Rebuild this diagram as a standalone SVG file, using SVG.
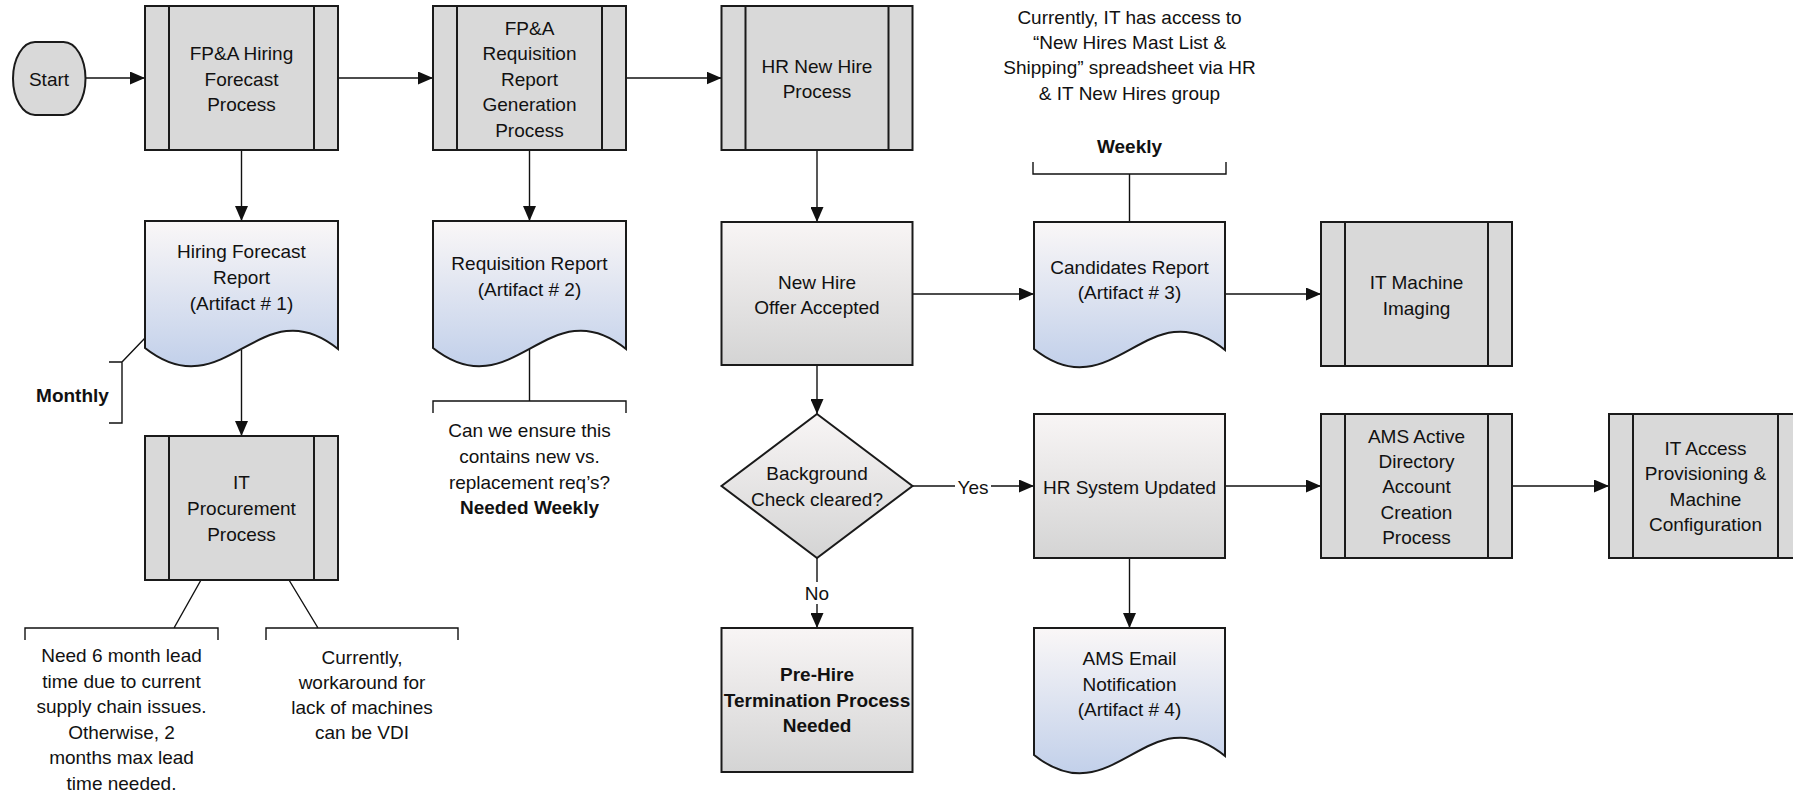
<svg xmlns="http://www.w3.org/2000/svg" width="1793" height="794" viewBox="0 0 1793 794">
<style>
.t{font-family:"Liberation Sans",Arial,sans-serif;font-size:19px;fill:#111;text-anchor:middle}
.b{font-weight:bold}
.proc{fill:#d9d9d9;stroke:#1a1a1a;stroke-width:2}
.in{stroke:#1a1a1a;stroke-width:2;fill:none}
.doc{fill:url(#gDoc);stroke:#1a1a1a;stroke-width:2}
.box{fill:url(#gBox);stroke:#1a1a1a;stroke-width:2}
.c{fill:none;stroke:#111;stroke-width:1.4}
.a{marker-end:url(#ar)}
</style>
<defs>
<linearGradient id="gDoc" x1="0" y1="0" x2="0" y2="1">
<stop offset="0" stop-color="#faf7f7"/><stop offset="1" stop-color="#c2d0ea"/>
</linearGradient>
<linearGradient id="gBox" x1="0" y1="0" x2="0" y2="1">
<stop offset="0" stop-color="#f8f5f5"/><stop offset="1" stop-color="#d4d4d4"/>
</linearGradient>
<marker id="ar" markerUnits="userSpaceOnUse" markerWidth="15" markerHeight="13" viewBox="0 0 15 13" refX="15" refY="6.5" orient="auto">
<path d="M0,0 L15,6.5 L0,13 z" fill="#111"/>
</marker>
</defs>

<g id="connectors">
<path class="c a" d="M86,78 H145"/>
<path class="c a" d="M338,78 H433"/>
<path class="c a" d="M626,78 H721.5"/>
<path class="c a" d="M241.5,150 V221"/>
<path class="c a" d="M529.5,150 V221"/>
<path class="c a" d="M817,150 V222"/>
<path class="c a" d="M912.5,294 H1034"/>
<path class="c a" d="M1225,294 H1321"/>
<path class="c a" d="M241.5,350 V436"/>
<path class="c a" d="M817,365 V414"/>
<path class="c a" d="M912.5,486 H1034"/>
<path class="c a" d="M1225,486 H1321"/>
<path class="c a" d="M1512,486 H1609"/>
<path class="c a" d="M817,558 V628"/>
<path class="c a" d="M1129.5,558 V628"/>
<rect x="955" y="476" width="36" height="22" fill="#fff"/>
<text class="t" x="973" y="494">Yes</text>
<rect x="803" y="582" width="28" height="22" fill="#fff"/>
<text class="t" x="817" y="600">No</text>
<!-- annotation brackets -->
<path class="c" d="M145,338 L122,362 M109,362 H122 V423 H109"/>
<path class="c" d="M529.5,349 V401 M433,413 V401 H626 V413"/>
<path class="c" d="M1129.5,222 V174 M1033,162 V174 H1226 V162"/>
<path class="c" d="M201,580 L174,628 M289,580 L318,628 M25,640 V628 H218 V640 M266,640 V628 H458 V640"/>
</g>

<g id="start">
<rect x="13" y="42" width="72.5" height="73" rx="22" ry="36.5" class="proc"/>
<text class="t" x="49" y="86">Start</text>
</g>

<g id="fpa-hiring">
<rect x="145" y="6" width="193" height="144" class="proc"/>
<path class="in" d="M169,6 V150 M314,6 V150"/>
<text class="t" x="241.5" y="60">FP&amp;A Hiring</text>
<text class="t" x="241.5" y="86">Forecast</text>
<text class="t" x="241.5" y="111">Process</text>
</g>

<g id="fpa-req">
<rect x="433" y="6" width="193" height="144" class="proc"/>
<path class="in" d="M457,6 V150 M602,6 V150"/>
<text class="t" x="529.5" y="35">FP&amp;A</text>
<text class="t" x="529.5" y="60">Requisition</text>
<text class="t" x="529.5" y="86">Report</text>
<text class="t" x="529.5" y="111">Generation</text>
<text class="t" x="529.5" y="137">Process</text>
</g>

<g id="hr-new-hire">
<rect x="721.5" y="6" width="191" height="144" class="proc"/>
<path class="in" d="M745.5,6 V150 M888.5,6 V150"/>
<text class="t" x="817" y="73">HR New Hire</text>
<text class="t" x="817" y="98">Process</text>
</g>

<g id="note-weekly">
<text class="t" x="1129.5" y="24">Currently, IT has access to</text>
<text class="t" x="1129.5" y="49">“New Hires Mast List &amp;</text>
<text class="t" x="1129.5" y="74">Shipping” spreadsheet via HR</text>
<text class="t" x="1129.5" y="100">&amp; IT New Hires group</text>
<text class="t b" x="1129.5" y="153">Weekly</text>
</g>

<g id="hiring-forecast-report">
<path class="doc" d="M145,221 H338 V349 C260,286 225,411 145,348 Z"/>
<text class="t" x="241.5" y="258">Hiring Forecast</text>
<text class="t" x="241.5" y="284">Report</text>
<text class="t" x="241.5" y="310">(Artifact # 1)</text>
</g>

<g id="requisition-report">
<path class="doc" d="M433,221 H626 V349 C548,286 513,411 433,348 Z"/>
<text class="t" x="529.5" y="270">Requisition Report</text>
<text class="t" x="529.5" y="296">(Artifact # 2)</text>
</g>

<g id="offer-accepted">
<rect x="721.5" y="222" width="191" height="143" class="box"/>
<text class="t" x="817" y="289">New Hire</text>
<text class="t" x="817" y="314">Offer Accepted</text>
</g>

<g id="candidates-report">
<path class="doc" d="M1034,222 H1225 V350 C1148,287 1113,412 1034,349 Z"/>
<text class="t" x="1129.5" y="274">Candidates Report</text>
<text class="t" x="1129.5" y="299">(Artifact # 3)</text>
</g>

<g id="it-machine-imaging">
<rect x="1321" y="222" width="191" height="144" class="proc"/>
<path class="in" d="M1345,222 V366 M1488,222 V366"/>
<text class="t" x="1416.5" y="289">IT Machine</text>
<text class="t" x="1416.5" y="315">Imaging</text>
</g>

<g id="monthly">
<text class="t b" x="72.5" y="402">Monthly</text>
</g>

<g id="it-procurement">
<rect x="145" y="436" width="193" height="144" class="proc"/>
<path class="in" d="M169,436 V580 M314,436 V580"/>
<text class="t" x="241.5" y="489">IT</text>
<text class="t" x="241.5" y="515">Procurement</text>
<text class="t" x="241.5" y="541">Process</text>
</g>

<g id="note-req">
<text class="t" x="529.5" y="437">Can we ensure this</text>
<text class="t" x="529.5" y="463">contains new vs.</text>
<text class="t" x="529.5" y="489">replacement req’s?</text>
<text class="t b" x="529.5" y="514">Needed Weekly</text>
</g>

<g id="background-check">
<polygon class="box" points="817,414 912.5,486 817,558 721.5,486"/>
<text class="t" x="817" y="480">Background</text>
<text class="t" x="817" y="506">Check cleared?</text>
</g>

<g id="hr-system-updated">
<rect x="1034" y="414" width="191" height="144" class="box"/>
<text class="t" x="1129.5" y="494">HR System Updated</text>
</g>

<g id="ams-ad">
<rect x="1321" y="414" width="191" height="144" class="proc"/>
<path class="in" d="M1345,414 V558 M1488,414 V558"/>
<text class="t" x="1416.5" y="443">AMS Active</text>
<text class="t" x="1416.5" y="468">Directory</text>
<text class="t" x="1416.5" y="493">Account</text>
<text class="t" x="1416.5" y="519">Creation</text>
<text class="t" x="1416.5" y="544">Process</text>
</g>

<g id="it-access">
<rect x="1609" y="414" width="193" height="144" class="proc"/>
<path class="in" d="M1633,414 V558 M1778,414 V558"/>
<text class="t" x="1705.5" y="455">IT Access</text>
<text class="t" x="1705.5" y="480">Provisioning &amp;</text>
<text class="t" x="1705.5" y="506">Machine</text>
<text class="t" x="1705.5" y="531">Configuration</text>
</g>

<g id="note-procurement-left">
<text class="t" x="121.5" y="662">Need 6 month lead</text>
<text class="t" x="121.5" y="688">time due to current</text>
<text class="t" x="121.5" y="713">supply chain issues.</text>
<text class="t" x="121.5" y="739">Otherwise, 2</text>
<text class="t" x="121.5" y="764">months max lead</text>
<text class="t" x="121.5" y="790">time needed.</text>
</g>

<g id="note-procurement-right">
<text class="t" x="362" y="664">Currently,</text>
<text class="t" x="362" y="689">workaround for</text>
<text class="t" x="362" y="714">lack of machines</text>
<text class="t" x="362" y="739">can be VDI</text>
</g>

<g id="pre-hire">
<rect x="721.5" y="628" width="191" height="144" class="box"/>
<text class="t b" x="817" y="681">Pre-Hire</text>
<text class="t b" x="817" y="707">Termination Process</text>
<text class="t b" x="817" y="732">Needed</text>
</g>

<g id="ams-email">
<path class="doc" d="M1034,628 H1225 V756 C1148,693 1113,818 1034,755 Z"/>
<text class="t" x="1129.5" y="665">AMS Email</text>
<text class="t" x="1129.5" y="691">Notification</text>
<text class="t" x="1129.5" y="716">(Artifact # 4)</text>
</g>
</svg>
